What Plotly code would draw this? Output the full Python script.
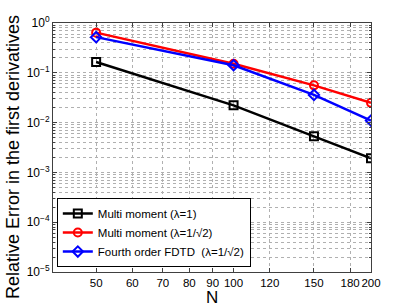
import plotly.graph_objects as go

N = [50, 100, 150, 200]
mm_lam1 = [0.165, 0.0222, 0.0053, 0.00192]
mm_lam_sqrt2 = [0.64, 0.152, 0.056, 0.0249]
fdtd4 = [0.52, 0.142, 0.036, 0.011]

names = ["Multi moment (λ=1)", "Multi moment (λ=1/√2)", "Fourth order FDTD  (λ=1/√2)"]
x_ticks = [50, 60, 70, 80, 90, 100, 120, 150, 180, 200]
y_tickvals = [1e0, 1e-1, 1e-2, 1e-3, 1e-4, 1e-5]
y_ticktext = ["10<sup>0</sup>", "10<sup>−1</sup>", "10<sup>−2</sup>", "10<sup>−3</sup>",
              "10<sup>−4</sup>", "10<sup>−5</sup>"]
x_title = "N"
y_title = "Relative Error in the first derivatives"

fig = go.Figure()
series = [
    (mm_lam1, names[0], "black", "square-open"),
    (mm_lam_sqrt2, names[1], "red", "circle-open"),
    (fdtd4, names[2], "blue", "diamond-open"),
]
for ys, nm, col, sym in series:
    fig.add_trace(go.Scatter(
        x=N, y=ys, name=nm, mode="lines+markers",
        line=dict(color=col, width=2.5),
        marker=dict(symbol=sym, size=8, color=col, line=dict(width=2, color=col)),
    ))

W, H = 409, 307
ml, mr, mt, mb = 53, 38, 23, 35
pw, ph = W - ml - mr, H - mt - mb

fig.update_layout(
    width=W, height=H,
    margin=dict(l=ml, r=mr, t=mt, b=mb),
    paper_bgcolor="white", plot_bgcolor="white",
    font=dict(family="Liberation Sans, Arial, sans-serif", size=12, color="black"),
    showlegend=True,
    legend=dict(
        x=0.012, y=0.02, xanchor="left", yanchor="bottom",
        bgcolor="white", bordercolor="black", borderwidth=1,
        font=dict(size=11.5), tracegroupgap=0, itemwidth=30,
    ),
    annotations=[
        dict(text=x_title, xref="paper", yref="paper",
             x=(212 - ml) / pw, y=-(297 - (H - mb)) / ph,
             xanchor="center", yanchor="middle", showarrow=False,
             font=dict(size=17)),
        dict(text=y_title, xref="paper", yref="paper",
             x=(13 - ml) / pw, y=((H - mb) - 157) / ph,
             xanchor="center", yanchor="middle", showarrow=False,
             textangle=-90, font=dict(size=18)),
    ],
)
fig.update_xaxes(
    type="log", range=[1.6045, 2.30103],
    tickvals=x_ticks, ticktext=[str(v) for v in x_ticks],
    tickfont=dict(size=11.5), tickangle=0, automargin=False,
    showgrid=True, gridcolor="#b0b0b0", griddash="dot", gridwidth=1,
    showline=True, linecolor="#404040", linewidth=1, mirror="ticks",
    ticks="inside", ticklen=4, tickcolor="#404040",
    zeroline=False,
)
fig.update_yaxes(
    type="log", range=[-5, 0],
    tickvals=y_tickvals, ticktext=y_ticktext,
    tickfont=dict(size=12), automargin=False,
    showgrid=True, gridcolor="#b0b0b0", griddash="dot", gridwidth=1,
    minor=dict(dtick="D1", showgrid=True, gridcolor="#b0b0b0", griddash="dot",
               ticks="inside", ticklen=2, tickcolor="#404040"),
    showline=True, linecolor="#404040", linewidth=1, mirror="ticks",
    ticks="inside", ticklen=4, tickcolor="#404040",
    zeroline=False,
)

fig.write_html("out.html", config={"displayModeBar": False},
               post_script="document.body.style.margin='0';document.body.style.overflow='hidden';")
